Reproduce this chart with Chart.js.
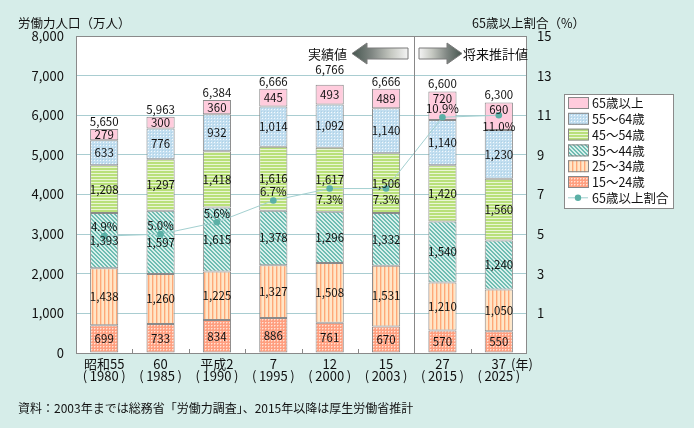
<!DOCTYPE html>
<html><head><meta charset="utf-8">
<script src="https://cdn.jsdelivr.net/npm/chart.js@4.4.1/dist/chart.umd.min.js"></script>
<style>
html,body{margin:0;padding:0;background:#d6ede9;}
#wrap{width:694px;height:428px;position:relative;}
</style></head>
<body><div id="wrap"><canvas id="c" width="694" height="428"></canvas></div>
<script>
// ---- data ----
const eraLabels = ['昭和55','60','平成2','7','12','15','27','37'];
const yearLabels = ['1980','1985','1990','1995','2000','2003','2015','2025'];
const age15_24 = [699, 733, 834, 886, 761, 670, 570, 550];
const age25_34 = [1438, 1260, 1225, 1327, 1508, 1531, 1210, 1050];
const age35_44 = [1393, 1597, 1615, 1378, 1296, 1332, 1540, 1240];
const age45_54 = [1208, 1297, 1418, 1616, 1617, 1506, 1420, 1560];
const age55_64 = [633, 776, 932, 1014, 1092, 1140, 1140, 1230];
const age65plus = [279, 300, 360, 445, 493, 489, 720, 690];
const totals = [5650, 5963, 6384, 6666, 6766, 6666, 6600, 6300];
const ratio65 = [4.9, 5.0, 5.6, 6.7, 7.3, 7.3, 10.9, 11.0];
const seriesNames = ['15～24歳','25～34歳','35～44歳','45～54歳','55～64歳','65歳以上'];
const lineName = '65歳以上割合';
const leftTitle = '労働力人口（万人）';
const rightTitle = '65歳以上割合（%）';
const sourceText = '資料：2003年までは総務省「労働力調査」、2015年以降は厚生労働省推計';
const actualText = '実績値';
const forecastText = '将来推計値';
const yearUnit = '(年)';

const categories = eraLabels.map((e, i) => [e, '(\u2009' + yearLabels[i] + '\u2009)']);
const FONT = "'Noto Sans CJK JP', 'Noto Sans', sans-serif";

// ---- patterns ----
function makePattern(size, fn) {
  const c = document.createElement('canvas'); c.width = c.height = size;
  const x = c.getContext('2d'); fn(x, size); return x.createPattern(c, 'repeat');
}
function px(x, X, Y, col) { x.fillStyle = col; x.fillRect(X, Y, 1, 1); }
const pat65 = '#ffccdd';
const pat55 = makePattern(3, (x) => { x.fillStyle = '#c2def0'; x.fillRect(0,0,3,3); px(x,1,1,'#f4fafd'); px(x,0,0,'#aed2e6'); });
const pat45 = makePattern(3, (x) => { x.fillStyle = '#b9e07a'; x.fillRect(0,0,3,3); x.fillStyle = '#eaf6d6'; x.fillRect(0,2,3,1); });
const pat35 = makePattern(4, (x) => { x.fillStyle = '#d9f0ec'; x.fillRect(0,0,4,4);
  for (let i = 0; i < 4; i++) for (let j = 0; j < 4; j++) if (((i - j) % 4 + 4) % 4 < 2) px(x, i, j, '#6fbdb2'); });
const pat25 = makePattern(4, (x) => { x.fillStyle = '#ffe6c8'; x.fillRect(0,0,4,4); x.fillStyle = '#ffa878'; x.fillRect(0,0,1,4); x.fillStyle='#ffd0a8'; x.fillRect(1,0,1,4); });
const pat15 = makePattern(3, (x) => { x.fillStyle = '#ff9f80'; x.fillRect(0,0,3,3); px(x,1,1,'#ffe2d6'); px(x,2,1,'#ffc0a8'); px(x,1,2,'#ffc0a8'); });
const patterns = [pat15, pat25, pat35, pat45, pat55, pat65];
const barData = [age15_24, age25_34, age35_44, age45_54, age55_64, age65plus];

const fmt = (v) => v.toLocaleString('en-US');
const pctPlacement = ['above','above','above','above','below','below','above','below'];

function drawArrow(ctx, tip, hb, tail, cy, headH, bodyH) {
  ctx.save();
  ctx.beginPath();
  ctx.moveTo(tip, cy);
  ctx.lineTo(hb, cy - headH / 2);
  ctx.lineTo(hb, cy - bodyH / 2);
  ctx.lineTo(tail, cy - bodyH / 2);
  ctx.lineTo(tail, cy + bodyH / 2);
  ctx.lineTo(hb, cy + bodyH / 2);
  ctx.lineTo(hb, cy + headH / 2);
  ctx.closePath();
  const g = ctx.createLinearGradient(tip, 0, tail, 0);
  g.addColorStop(0, '#46564f');
  g.addColorStop(0.35, '#7f8682');
  g.addColorStop(0.7, '#c6c9c2');
  g.addColorStop(1, '#f4f4f4');
  ctx.fillStyle = g; ctx.fill();
  ctx.strokeStyle = '#7a7a7a'; ctx.lineWidth = 1; ctx.stroke();
  ctx.restore();
}

const deco = {
  id: 'deco',
  beforeDraw(chart) {
    const { ctx, chartArea: a } = chart;
    ctx.save();
    ctx.fillStyle = '#d6ede9'; ctx.fillRect(0, 0, chart.width, chart.height);
    ctx.fillStyle = '#ffffff'; ctx.fillRect(a.left, a.top, a.right - a.left, a.bottom - a.top);
    ctx.restore();
  },
  afterDatasetsDraw(chart) {
    const { ctx, chartArea: a } = chart;
    const xs = chart.scales.x;
    ctx.save();
    // separator between actual and forecast
    const sepX = Math.round((xs.getPixelForValue(5) + xs.getPixelForValue(6)) / 2) + 0.5;
    ctx.strokeStyle = '#888'; ctx.lineWidth = 1;
    ctx.beginPath(); ctx.moveTo(sepX, a.top); ctx.lineTo(sepX, a.bottom); ctx.stroke();
    // small ticks at category boundaries
    for (let i = 0; i < 7; i++) {
      if (i === 5) continue;
      const bx = Math.round((xs.getPixelForValue(i) + xs.getPixelForValue(i + 1)) / 2) + 0.5;
      ctx.beginPath(); ctx.moveTo(bx, a.bottom); ctx.lineTo(bx, a.bottom - 4); ctx.stroke();
    }
    // plot border
    ctx.strokeStyle = '#8a8a8a';
    ctx.strokeRect(a.left + 0.5, a.top + 0.5, a.right - a.left - 1, a.bottom - a.top);

    ctx.fillStyle = '#111';
    ctx.textAlign = 'center'; ctx.textBaseline = 'middle';
    ctx.font = '11.5px ' + FONT;
    // segment labels
    for (let d = 0; d < 6; d++) {
      const meta = chart.getDatasetMeta(d);
      meta.data.forEach((el, i) => {
        let y = (el.y + el.base) / 2;
        if (d === 5 && i >= 6) y = el.y + 7;
        ctx.fillText(fmt(barData[d][i]), el.x, y);
      });
    }
    // totals
    const top = chart.getDatasetMeta(5);
    top.data.forEach((el, i) => {
      const off = i === 4 ? 15 : 7.5;
      ctx.fillText(fmt(totals[i]), el.x, el.y - off);
    });
    // percentages
    const lm = chart.getDatasetMeta(6);
    lm.data.forEach((pt, i) => {
      const y = pctPlacement[i] === 'above' ? pt.y - 9 : pt.y + 11;
      ctx.fillText(ratio65[i].toFixed(1) + '%', pt.x, y);
    });

    // arrows and labels
    drawArrow(ctx, 352, 367, 408, 53.5, 21, 11);
    drawArrow(ctx, 462, 447, 419, 53.5, 21, 11);
    ctx.fillStyle = '#111';
    ctx.font = '13px ' + FONT;
    ctx.textAlign = 'right'; ctx.fillText(actualText, 347, 54);
    ctx.textAlign = 'left'; ctx.fillText(forecastText, 463, 54);

    // titles
    ctx.font = '12.5px ' + FONT;
    ctx.textAlign = 'left';
    ctx.fillText(leftTitle, 18, 23);
    ctx.fillText(rightTitle, 472, 23);
    // year unit
    ctx.font = '13px ' + FONT;
    ctx.fillText(yearUnit, 511, 364);
    // source
    ctx.font = '12px ' + FONT;
    ctx.fillText(sourceText, 18, 408);

    // legend
    const lx = 564, ly = 94, lw = 109, lh = 114;
    ctx.fillStyle = '#fff'; ctx.fillRect(lx, ly, lw, lh);
    ctx.strokeStyle = '#8a8a8a'; ctx.strokeRect(lx + 0.5, ly + 0.5, lw, lh);
    ctx.font = '12.5px ' + FONT;
    for (let k = 0; k < 6; k++) {
      const d = 5 - k;
      const cy = 103 + k * 15.8;
      ctx.fillStyle = patterns[d];
      ctx.fillRect(568, cy - 6, 20, 12);
      ctx.strokeStyle = '#888'; ctx.strokeRect(568.5, cy - 5.5, 20, 11);
      ctx.fillStyle = '#111'; ctx.textAlign = 'left';
      ctx.fillText(seriesNames[d], 592, cy + 0.5);
    }
    const cyl = 103 + 6 * 15.8;
    ctx.strokeStyle = '#9fcfcf'; ctx.lineWidth = 1;
    ctx.beginPath(); ctx.moveTo(568, cyl); ctx.lineTo(588, cyl); ctx.stroke();
    ctx.fillStyle = '#5bb0a6'; ctx.beginPath(); ctx.arc(578, cyl, 3.2, 0, Math.PI * 2); ctx.fill();
    ctx.fillStyle = '#111'; ctx.fillText(lineName, 592, cyl + 0.5);
    ctx.restore();
  }
};

const datasets = barData.map((arr, d) => ({
  type: 'bar', label: seriesNames[d], data: arr, yAxisID: 'y',
  backgroundColor: patterns[d], borderColor: '#8a8a8a', borderWidth: 1, borderSkipped: false,
  barPercentage: 0.5, categoryPercentage: 1.0, order: 1
}));
datasets.push({
  type: 'line', label: lineName, data: ratio65, yAxisID: 'y2',
  borderColor: '#a3d0d0', borderWidth: 1, pointRadius: 3.3, pointBackgroundColor: '#5bb0a6',
  pointBorderColor: '#5bb0a6', pointBorderWidth: 0, fill: false, tension: 0, order: 0
});

Chart.defaults.font.family = FONT;
Chart.defaults.color = '#111';

new Chart(document.getElementById('c'), {
  type: 'bar',
  data: { labels: categories, datasets },
  plugins: [deco],
  options: {
    responsive: false, animation: false, events: [],
    layout: { padding: { top: 36, left: 0, right: 0, bottom: 0 } },
    plugins: { legend: { display: false }, tooltip: { enabled: false } },
    scales: {
      x: {
        stacked: true, offset: true,
        grid: { display: false, drawTicks: false },
        border: { display: false },
        ticks: { padding: 5, font: { size: 13, lineHeight: 0.93 }, color: '#111', maxRotation: 0, autoSkip: false },
        afterFit(s) { s.height = 75; }
      },
      y: {
        stacked: true, position: 'left', min: 0, max: 8000,
        grid: { color: '#a9cdd1', drawTicks: false },
        border: { display: false },
        ticks: { stepSize: 1000, padding: 12, font: { size: 13 }, color: '#111', callback: (v) => fmt(v) },
        afterFit(s) { s.width = 76; }
      },
      y2: {
        position: 'right', min: -1, max: 15,
        grid: { display: false, drawTicks: false },
        border: { display: false },
        ticks: { stepSize: 2, padding: 10, font: { size: 13 }, color: '#111', callback: (v) => (v < 0 ? '' : String(v)) },
        afterFit(s) { s.width = 167; }
      }
    }
  }
});
</script></body></html>
